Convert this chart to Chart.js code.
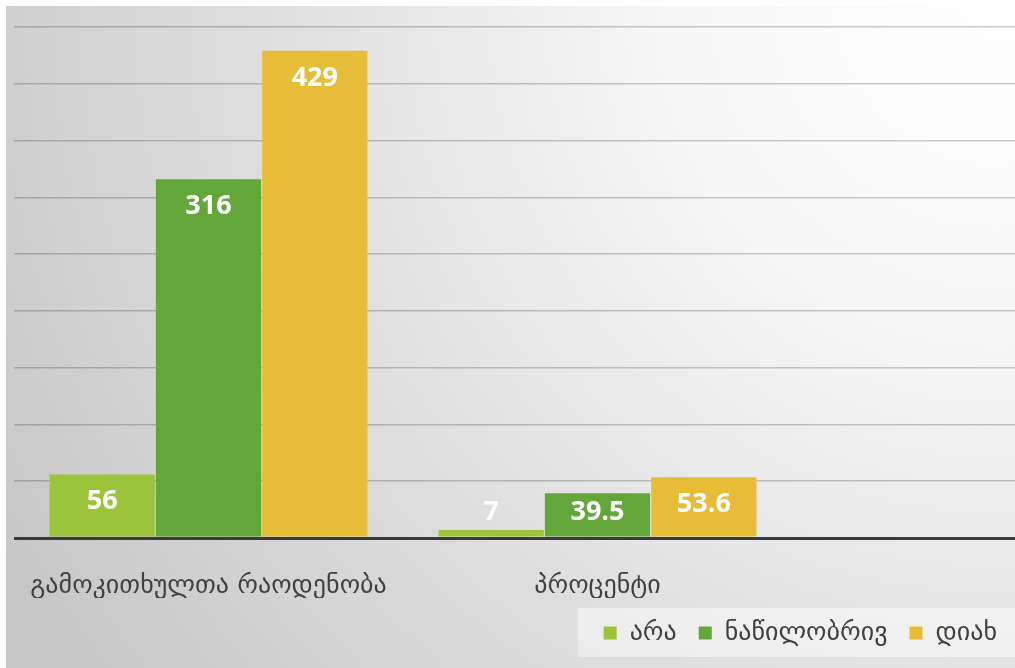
<!DOCTYPE html>
<html>
<head>
<meta charset="utf-8">
<script src="https://cdn.jsdelivr.net/npm/chart.js@4.4.1/dist/chart.umd.min.js"></script>
<style>
  html, body { margin: 0; padding: 0; background: #fff; }
  #wrap { width: 1015px; height: 668px; position: relative; }
</style>
</head>
<body>
<div id="wrap"><canvas id="surveyChart"></canvas></div>
<script>
const categories = ['გამოკითხულთა რაოდენობა', 'პროცენტი'];
const seriesNames = ['არა', 'ნაწილობრივ', 'დიახ'];
const noValues = [56, 7];
const partlyValues = [316, 39.5];
const yesValues = [429, 53.6];
const seriesColors = ['#9bc43b', '#62a738', '#e7bd37'];
const yMax = 450;
const yStep = 50;

// grey sheet behind the chart, lighter towards the top right corner
const backdrop = {
  id: 'backdrop',
  beforeDraw(chart) {
    const { ctx, width, height } = chart;
    ctx.save();
    const g = ctx.createRadialGradient(1000, 0, 0, 1000, 0, 1150);
    g.addColorStop(0, '#ffffff');
    g.addColorStop(0.3, '#f6f6f6');
    g.addColorStop(1, '#c6c6c6');
    ctx.fillStyle = g;
    ctx.fillRect(0, 0, width, height);
    ctx.fillStyle = '#ffffff';
    ctx.fillRect(0, 0, width, 6);
    ctx.fillRect(0, 0, 6, height);

    // pale panel behind the legend
    const boxes = chart.legend && chart.legend.legendHitBoxes;
    if (boxes && boxes.length) {
      const first = boxes[0];
      const cy = first.top + first.height / 2;
      ctx.fillStyle = 'rgba(255,255,255,0.45)';
      ctx.fillRect(first.left - 26, cy - 25, width - first.left + 26, 49);
    }
    ctx.restore();
  }
};

// white value labels near the top of each bar
const barValues = {
  id: 'barValues',
  afterDatasetsDraw(chart) {
    const { ctx } = chart;
    const base = chart.scales.y.getPixelForValue(0);
    ctx.save();
    ctx.fillStyle = '#ffffff';
    ctx.font = 'bold 27px "Open Sans"';
    ctx.textAlign = 'center';
    ctx.textBaseline = 'middle';
    chart.data.datasets.forEach((ds, i) => {
      chart.getDatasetMeta(i).data.forEach((bar, j) => {
        const y = Math.min(bar.y + 27, base - 26);
        ctx.fillText(String(ds.data[j]), bar.x, y);
      });
    });
    ctx.restore();
  }
};

new Chart(document.getElementById('surveyChart'), {
  type: 'bar',
  data: {
    labels: categories,
    datasets: [
      { label: seriesNames[0], data: noValues, backgroundColor: seriesColors[0] },
      { label: seriesNames[1], data: partlyValues, backgroundColor: seriesColors[1] },
      { label: seriesNames[2], data: yesValues, backgroundColor: seriesColors[2] }
    ]
  },
  options: {
    responsive: true,
    maintainAspectRatio: false,
    animation: false,
    layout: { padding: { left: 14, top: 27, right: -4, bottom: 12 } },
    datasets: {
      bar: { categoryPercentage: 0.82, barPercentage: 0.99 }
    },
    scales: {
      x: {
        grid: { display: false },
        border: { display: false },
        ticks: {
          padding: 25,
          color: '#404040',
          font: { family: 'DejaVu Sans', size: 26 }
        },
        afterFit(scale) { scale.height = 60; }
      },
      y: {
        position: 'right',
        min: 0,
        max: yMax,
        ticks: { display: false, stepSize: yStep },
        border: { display: false },
        grid: {
          drawTicks: true,
          tickLength: 227,
          color: c => c.tick && c.tick.value === 0 ? '#3a3a3a' : 'rgba(0,0,0,0.2)',
          lineWidth: c => c.tick && c.tick.value === 0 ? 3 : 1.5
        },
        afterFit(scale) { scale.width = 227; }
      }
    },
    plugins: {
      tooltip: { enabled: false },
      legend: {
        position: 'bottom',
        align: 'end',
        labels: {
          boxWidth: 13,
          boxHeight: 13,
          padding: 22,
          color: '#404040',
          font: { family: 'DejaVu Sans', size: 26 }
        }
      }
    }
  },
  plugins: [backdrop, barValues]
});
</script>
</body>
</html>
